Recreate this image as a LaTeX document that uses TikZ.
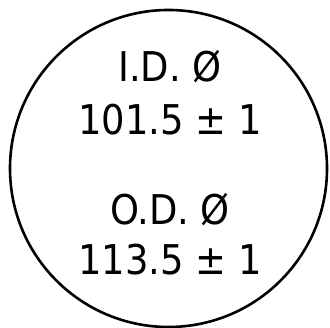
\documentclass[tikz,border=0pt]{standalone}
\usepackage{fontspec}
\setmainfont{DejaVu Sans Condensed}

\begin{document}
\begin{tikzpicture}[x=1pt,y=-1pt,
	dimtext/.style={anchor=base, inner sep=0pt, font=\fontsize{41}{41}\selectfont}]
	\useasboundingbox (0,0) rectangle (330,328);
	% outline of the ring
	\draw[line width=2.6pt] (168.5,168.5) circle (158.5);
	% inner diameter
	\node[dimtext] (idlabel) at (170,82) {I.D. Ø};
	\node[dimtext] (idvalue) at (170,135) {101.5 ± 1};
	% outer diameter
	\node[dimtext] (odlabel) at (170,225) {O.D. Ø};
	\node[dimtext] (odvalue) at (170,275) {113.5 ± 1};
\end{tikzpicture}
\end{document}
